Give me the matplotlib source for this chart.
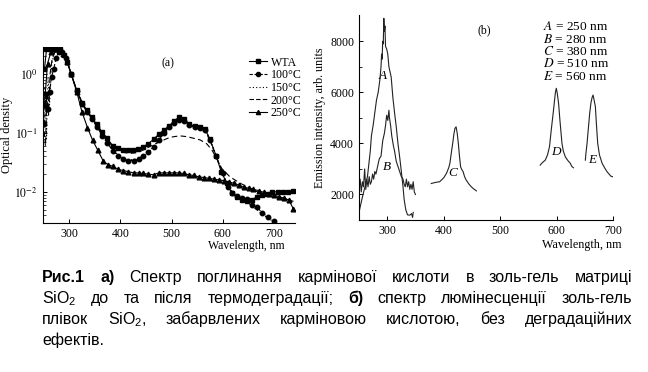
import matplotlib
matplotlib.use("Agg")
import matplotlib.pyplot as plt
from matplotlib.lines import Line2D

# fonts: serif for the plots, Arial-like for the caption
plt.rcParams["font.family"] = ["Liberation Serif", "DejaVu Serif"]
plt.rcParams["mathtext.fontset"] = "custom"
plt.rcParams["mathtext.rm"] = "Liberation Sans"
plt.rcParams["mathtext.it"] = "Liberation Sans:italic"

# ---- panel (a): optical density ----
wta_x = [252, 256, 262, 268, 275, 282, 290, 297, 304, 315, 325, 335, 344, 354, 364, 374, 385, 395,
         405, 415, 425, 435, 445, 455, 465, 475, 485, 495, 505, 515, 525, 535, 545, 555, 565, 575,
         587, 597, 608, 618, 628, 637, 647, 657, 667, 677, 687, 697, 707, 717, 727, 738]
wta_y = [1.2, 2.6, 2.7, 2.7, 2.7, 2.6, 2.1, 1.6, 1.0, 0.53, 0.32, 0.24, 0.185, 0.14, 0.105, 0.082,
         0.061, 0.056, 0.052, 0.051, 0.051, 0.053, 0.058, 0.066, 0.078, 0.095, 0.112, 0.13, 0.16,
         0.185, 0.17, 0.14, 0.13, 0.128, 0.118, 0.078, 0.041, 0.022, 0.014, 0.0095, 0.0083, 0.0073,
         0.0069, 0.0073, 0.0083, 0.0088, 0.0093, 0.0100, 0.0100, 0.0101, 0.0101, 0.0102]

t100_x = [252, 255, 258, 262, 266, 270, 275, 280, 287, 294, 304, 315, 325, 335, 345, 355, 365, 375,
          385, 396, 406, 416, 426, 436, 445, 455, 465, 475, 485, 495, 505, 515, 525, 535, 545, 555,
          565, 575, 587, 600, 610, 618, 627, 637, 647, 657, 667, 677, 688, 700]
t100_y = [0.14, 0.45, 0.25, 0.5, 0.9, 1.2, 1.9, 2.4, 2.4, 1.9, 1.0, 0.52, 0.31, 0.23, 0.17, 0.125,
          0.09, 0.067, 0.05, 0.041, 0.036, 0.034, 0.034, 0.036, 0.04, 0.047, 0.057, 0.075, 0.1,
          0.125, 0.15, 0.165, 0.16, 0.135, 0.125, 0.12, 0.11, 0.075, 0.04, 0.021, 0.012, 0.0095,
          0.0085, 0.0078, 0.0075, 0.0059, 0.0055, 0.0044, 0.0038, 0.0032]

t150_x = [250, 253, 256, 259, 262, 266, 270, 276, 283, 290, 300, 310, 320, 330, 340, 350, 360, 370,
          380, 390, 400, 410, 420, 430, 440, 450, 460, 470, 480, 490, 500, 510, 520, 530, 540, 550,
          560, 570, 580, 590, 600, 610, 620, 630, 640, 650, 660, 670, 680, 690, 700, 710]
t150_y = [0.1, 0.6, 0.08, 0.9, 0.3, 1.4, 2.2, 2.6, 2.6, 2.2, 1.3, 0.7, 0.42, 0.28, 0.2, 0.15, 0.11,
          0.08, 0.06, 0.047, 0.04, 0.036, 0.035, 0.036, 0.039, 0.045, 0.053, 0.066, 0.085, 0.11,
          0.135, 0.155, 0.16, 0.15, 0.13, 0.125, 0.115, 0.1, 0.06, 0.035, 0.02, 0.013, 0.0095,
          0.008, 0.0072, 0.0065, 0.0055, 0.0047, 0.004, 0.0035, 0.0031, 0.0028]

t200_x = [250, 254, 257, 260, 263, 267, 272, 278, 285, 292, 300, 310, 320, 330, 340, 350, 360, 370,
          380, 390, 400, 410, 420, 430, 440, 450, 458, 468, 478, 488, 497, 507, 517, 527, 536, 546,
          556, 569, 579, 588, 598, 614, 634, 654, 673, 693, 718, 738]
t200_y = [0.15, 0.06, 0.5, 0.2, 1.0, 1.8, 2.3, 2.6, 2.5, 2.0, 1.3, 0.7, 0.42, 0.28, 0.2, 0.15, 0.11,
          0.085, 0.066, 0.055, 0.049, 0.046, 0.045, 0.046, 0.049, 0.054, 0.059, 0.065, 0.071, 0.078,
          0.084, 0.087, 0.089, 0.087, 0.084, 0.08, 0.076, 0.065, 0.051, 0.037, 0.025, 0.018, 0.014,
          0.0115, 0.0095, 0.0083, 0.0078, 0.0069]

t250_x = [252, 258, 265, 272, 280, 288, 296, 304, 315, 325, 336, 346, 356, 367, 376, 386, 396, 406,
          416, 426, 436, 445, 455, 465, 475, 485, 495, 504, 514, 524, 534, 543, 553, 563, 573, 582,
          592, 602, 612, 622, 631, 641, 651, 660, 670, 680, 690, 700, 710, 719, 729, 738]
t250_y = [0.3, 1.5, 2.4, 2.6, 2.6, 2.2, 1.6, 1.0, 0.5, 0.23, 0.123, 0.075, 0.051, 0.033, 0.029,
          0.027, 0.024, 0.023, 0.022, 0.021, 0.021, 0.0205, 0.02, 0.0195, 0.021, 0.021, 0.021, 0.021,
          0.021, 0.0205, 0.0195, 0.019, 0.018, 0.0175, 0.017, 0.0165, 0.016, 0.0155, 0.0147, 0.014,
          0.013, 0.012, 0.0115, 0.011, 0.0105, 0.0098, 0.0093, 0.0087, 0.0083, 0.0078, 0.0073, 0.0051]

a_labels = ["WTA", "100°C", "150°C", "200°C", "250°C"]
a_ticks_y = [1e-2, 1e-1, 1.0]
a_ticklabels_y = ["$10^{-2}$", "$10^{-1}$", "$10^{0}$"]

# ---- panel (b): emission spectra ----
curve_a_x = [250, 255, 260, 265, 270, 272, 275, 278, 281, 284, 287, 289, 290, 291, 292, 293, 294, 295,
             296, 297, 299, 301, 303, 305, 307, 310, 313, 316, 319, 322, 325, 328, 330, 333, 336, 340,
             343, 345, 346]
curve_a_y = [1300, 1800, 2250, 2700, 3700, 4300, 4700, 5200, 5700, 6000, 6500, 7000, 7500, 7300, 8000,
             7900, 8900, 8400, 8600, 7800, 7700, 7500, 7000, 6800, 6600, 5800, 5200, 4650, 4000, 3475,
             2900, 2300, 1800, 1390, 1200, 1190, 1250, 1100, 1300]

curve_b_x = [250, 252, 254, 256, 258, 260, 262, 264, 266, 268, 270, 272, 274, 276, 278, 280, 283, 286,
             289, 292, 295, 297, 299, 301, 303, 304, 306, 308, 311, 313, 316, 319, 322, 325, 328, 330,
             332, 334, 336, 338, 340, 342, 344, 346, 348, 350]
curve_b_y = [2200, 2600, 2100, 2500, 2300, 3000, 2200, 2600, 2300, 2700, 2400, 2500, 2800, 2600, 2900,
             2800, 3100, 3400, 3500, 4100, 4400, 4700, 5100, 4900, 5300, 5000, 4700, 4300, 3900, 3700,
             3300, 3100, 2900, 2700, 2600, 2400, 2300, 2600, 2300, 2500, 2200, 2400, 2200, 2500, 2100,
             2000]

curve_c_x = [378, 385, 393, 400, 405, 409, 411, 414, 416, 418, 420, 422, 424, 426, 428, 430, 432, 434.5,
             437, 440, 445, 449, 453, 458]
curve_c_y = [2430, 2470, 2500, 2650, 2830, 3050, 3220, 3700, 4000, 4350, 4590, 4650, 4400, 4000, 3500,
             3085, 2980, 2890, 2700, 2560, 2400, 2300, 2220, 2140]

curve_d_x = [571, 575, 580, 584, 587.5, 590, 592, 594, 596, 598, 599.5, 601, 603.6, 606, 608, 609.6,
             612, 615.5, 620, 624.4, 627, 630]
curve_d_y = [3150, 3250, 3345, 3550, 3870, 4400, 4800, 5180, 5600, 6000, 6160, 6000, 5570, 4900, 4400,
             4000, 3700, 3475, 3330, 3220, 3100, 3045]

curve_e_x = [651, 652, 654, 656, 658.7, 661, 663, 664.7, 666.5, 668.8, 670.5, 672.9, 676, 680.7, 685,
             689.6, 693, 696, 700]
curve_e_y = [3345, 3600, 4000, 4500, 5180, 5600, 5800, 5895, 5700, 5437, 4800, 4000, 3550, 3220, 3050,
             2886, 2800, 2720, 2690]

b_letters = ["A", "B", "C", "D", "E"]
b_letter_x = [292, 300, 416.7, 599.5, 663.6]
b_letter_y = [6640, 3085, 2826, 3670, 3345]
b_excitation = [250, 280, 380, 510, 560]

# caption words: (text, bold)
caption_lines = [
    [("Рис.1", True), ("а)", True), ("Спектр", False), ("поглинання", False), ("кармінової", False),
     ("кислоти", False), ("в", False), ("золь-гель", False), ("матриці", False)],
    [("SiO$_{\\mathrm{2}}$", False), ("до", False), ("та", False), ("після", False),
     ("термодеградації;", False), ("б)", True), ("спектр", False), ("люмінесценції", False),
     ("золь-гель", False)],
    [("плівок", False), ("SiO$_{\\mathrm{2}}$,", False), ("забарвлених", False), ("карміновою", False),
     ("кислотою,", False), ("без", False), ("деградаційних", False)],
    [("ефектів.", False)],
]

W, H = 648, 372
fig = plt.figure(figsize=(W / 100, H / 100), dpi=100)


def fx(px):
    return px / W


def fy(py):
    return 1 - py / H


# ---------- panel (a) ----------
ax1 = fig.add_axes([fx(42.7), fy(222.7), fx(295) - fx(42.7), fy(47.3) - fy(222.7)])
lw = 0.8
ax1.plot(wta_x, wta_y, color="black", lw=lw, ls="-", marker="s", ms=3.2)
ax1.plot(t100_x, t100_y, color="black", lw=lw, ls=(0, (4, 2)), marker="o", ms=3.2)
ax1.plot(t150_x, t150_y, color="black", lw=lw, ls=(0, (1, 2)))
ax1.plot(t200_x, t200_y, color="black", lw=lw, ls=(0, (5, 3)))
ax1.plot(t250_x, t250_y, color="black", lw=lw, ls="-", marker="^", ms=3.4)
ax1.set_yscale("log")
ax1.set_xlim(248.6, 741)
ax1.set_ylim(0.0030, 2.83)
ax1.set_xticks([300, 400, 500, 600, 700])
ax1.set_yticks(a_ticks_y)
ax1.set_yticklabels(a_ticklabels_y)
for lab in ax1.get_yticklabels():
    lab.set_math_fontfamily("stix")
ax1.tick_params(direction="in", labelsize=8.5, length=3, width=0.7)
ax1.tick_params(which="minor", direction="in", length=1.8, width=0.5)
for s in ["top", "right"]:
    ax1.spines[s].set_visible(False)
ax1.spines["left"].set_linewidth(0.8)
ax1.spines["bottom"].set_linewidth(0.8)
ax1.set_ylabel("Optical density", fontsize=9, labelpad=1)
fig.text(fx(285), fy(246), "Wavelength, nm", fontsize=8.5, ha="right", va="center")
fig.text(fx(168), fy(63), "(a)", fontsize=8.5, ha="center", va="center")

handles = [
    Line2D([], [], color="black", lw=lw, ls="-", marker="s", ms=3),
    Line2D([], [], color="black", lw=lw, ls=(0, (3, 1.5)), marker="o", ms=3),
    Line2D([], [], color="black", lw=lw, ls=(0, (1, 2))),
    Line2D([], [], color="black", lw=lw, ls=(0, (4, 2))),
    Line2D([], [], color="black", lw=lw, ls="-", marker="^", ms=3),
]
fig.legend(handles, a_labels, loc="upper left", bbox_to_anchor=(fx(249), fy(56.5)),
           frameon=False, fontsize=8.6, handlelength=1.5, handletextpad=0.3,
           labelspacing=0.06, borderpad=0, borderaxespad=0)

# ---------- panel (b) ----------
ax2 = fig.add_axes([fx(359), fy(220), fx(613) - fx(359), fy(15) - fy(220)])
for cx, cy in [(curve_a_x, curve_a_y), (curve_b_x, curve_b_y), (curve_c_x, curve_c_y),
               (curve_d_x, curve_d_y), (curve_e_x, curve_e_y)]:
    ax2.plot(cx, cy, color="#222222", lw=0.8)
ax2.set_xlim(250, 700)
ax2.set_ylim(1000, 9030)
ax2.set_xticks([300, 400, 500, 600, 700])
ax2.set_yticks([2000, 4000, 6000, 8000])
ax2.set_yticks([3000, 5000, 7000], minor=True)
ax2.tick_params(direction="in", labelsize=8.5, length=3, width=0.7)
ax2.tick_params(which="minor", direction="in", length=2, width=0.6)
for s in ["top", "right"]:
    ax2.spines[s].set_visible(False)
ax2.spines["left"].set_linewidth(0.8)
ax2.spines["bottom"].set_linewidth(0.8)
ax2.set_ylabel("Emission intensity, arb. units", fontsize=8.7, labelpad=3)
fig.text(fx(622), fy(245), "Wavelength, nm", fontsize=8.7, ha="right", va="center")
fig.text(fx(484), fy(30), "(b)", fontsize=8.5, ha="center", va="center")
for lt, lx, ly in zip(b_letters, b_letter_x, b_letter_y):
    ax2.text(lx, ly, lt, fontsize=9.5, style="italic", ha="center", va="center")
for i, (lt, ex) in enumerate(zip(b_letters, b_excitation)):
    t = fig.text(fx(543), fy(27 + i * 12.3), f"$\\mathit{{{lt}}}$ = {ex} nm", fontsize=9.6,
                 ha="left", va="center")
    t.set_math_fontfamily("stix")

# ---------- caption, justified ----------
cap_left, cap_right = 42, 632
baselines = [282, 303, 324, 345]
fig.canvas.draw()
renderer = fig.canvas.get_renderer()
for li, line in enumerate(caption_lines):
    texts = []
    for word, bold in line:
        t = fig.text(0, fy(baselines[li]), word, family=["Liberation Sans", "DejaVu Sans"],
                     fontsize=11.5, fontweight="bold" if bold else "normal", va="baseline", ha="left")
        texts.append(t)
    widths = [t.get_window_extent(renderer).width for t in texts]
    if li < len(caption_lines) - 1:
        gap = (cap_right - cap_left - sum(widths)) / (len(texts) - 1)
    else:
        gap = 4
    x = cap_left
    for t, w in zip(texts, widths):
        t.set_x(fx(x))
        x += w + gap

fig.savefig("out.png", dpi=100)
